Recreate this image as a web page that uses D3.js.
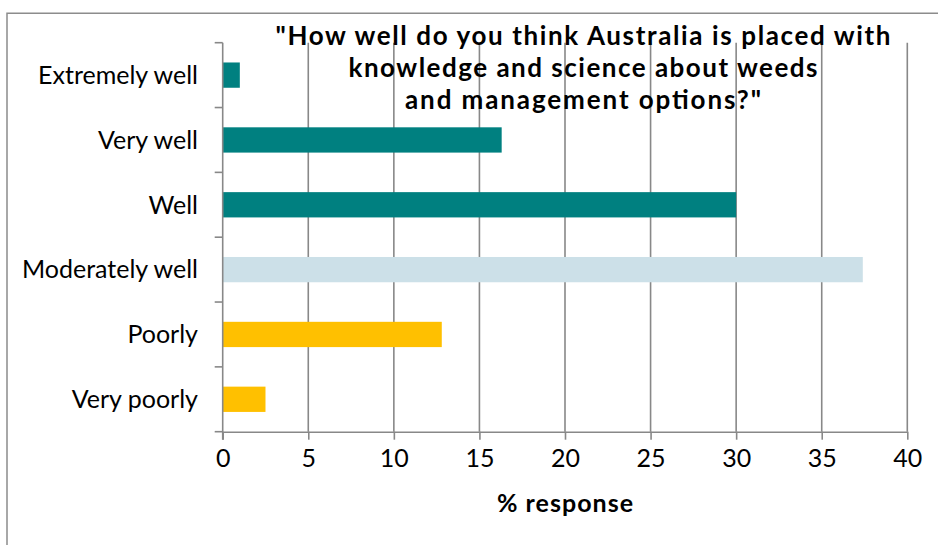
<!DOCTYPE html>
<html>
<head>
<meta charset="utf-8">
<script src="https://cdn.jsdelivr.net/npm/d3@7"></script>
<style>
  html, body { margin: 0; padding: 0; background: #fff; }
  svg { display: block; }
  text { font-family: "Lato", "Open Sans", sans-serif; fill: #000; }
</style>
</head>
<body>
<svg id="chart" width="938" height="545"></svg>
<script>
// Survey answers, top to bottom
const categories = ["Extremely well", "Very well", "Well", "Moderately well", "Poorly", "Very poorly"];
const responses = [1.0, 16.3, 30.0, 37.4, 12.8, 2.5];
const barColors = ["#008080", "#008080", "#008080", "#CCE0E8", "#FFC000", "#FFC000"];
const xTicks = [0, 5, 10, 15, 20, 25, 30, 35, 40];
const titleLines = ["\"How well do you think Australia is placed with",
                    "knowledge and science about weeds",
                    "and management options?\""];
const titleWidths = [615, 469, 356];
const xAxisTitle = "% response";

const svg = d3.select("#chart");
const plot = { left: 222.7, right: 907.3, top: 42.7, bottom: 431.7 };
const gridColor = "#888888";

const x = d3.scaleLinear().domain([0, 40]).range([plot.left, plot.right]);
const y = d3.scaleBand().domain(categories).range([plot.top, plot.bottom])
  .paddingInner(0.61).paddingOuter(0.305);

// chart frame (top and left edges)
svg.append("path")
  .attr("d", "M7,545 V13.3 H938")
  .attr("fill", "none").attr("stroke", "#8c8c8c").attr("stroke-width", 1.5);

// vertical gridlines
svg.append("g").selectAll("line").data(xTicks.slice(1)).join("line")
  .attr("x1", d => x(d)).attr("x2", d => x(d))
  .attr("y1", plot.top).attr("y2", plot.bottom)
  .attr("stroke", gridColor).attr("stroke-width", 1.6);

// bars
svg.append("g").selectAll("rect").data(categories).join("rect")
  .attr("x", x(0))
  .attr("y", d => y(d))
  .attr("width", (d, i) => x(responses[i]) - x(0))
  .attr("height", y.bandwidth())
  .attr("fill", (d, i) => barColors[i]);

// x axis
const xAxis = svg.append("g")
  .attr("transform", `translate(0,${plot.bottom})`)
  .call(d3.axisBottom(x).tickValues(xTicks).tickSize(8).tickPadding(10).tickSizeOuter(0));
xAxis.select(".domain").attr("stroke", gridColor).attr("stroke-width", 1.6);
xAxis.selectAll(".tick line").attr("stroke", gridColor).attr("stroke-width", 1.6);
xAxis.selectAll(".tick text")
  .style("font-family", "Lato, sans-serif").style("font-size", "25px").attr("fill", "#000");

// y axis: boundary ticks between categories
const boundaries = d3.range(categories.length + 1).map(i => plot.top + i * y.step());
const yAxis = svg.append("g");
yAxis.append("line")
  .attr("x1", x(0)).attr("x2", x(0)).attr("y1", plot.top).attr("y2", plot.bottom + 8)
  .attr("stroke", gridColor).attr("stroke-width", 1.6);
yAxis.selectAll(".bt").data(boundaries).join("line").attr("class", "bt")
  .attr("x1", x(0) - 8).attr("x2", x(0)).attr("y1", d => d).attr("y2", d => d)
  .attr("stroke", gridColor).attr("stroke-width", 1.6);

// category labels
svg.append("g").selectAll("text").data(categories).join("text")
  .attr("x", 198)
  .attr("y", d => y(d) + y.bandwidth() / 2)
  .attr("dy", "0.35em")
  .attr("text-anchor", "end")
  .style("font-size", "25px")
  .text(d => d);

// x axis title
svg.append("text")
  .attr("x", (plot.left + plot.right) / 2).attr("y", 512)
  .attr("text-anchor", "middle")
  .attr("textLength", 136).attr("lengthAdjust", "spacing")
  .style("font-size", "25px").style("font-weight", "bold")
  .text(xAxisTitle);

// chart title
svg.append("g").selectAll("text").data(titleLines).join("text")
  .attr("x", 583)
  .attr("y", (d, i) => 44.5 + i * 32)
  .attr("text-anchor", "middle")
  .attr("textLength", (d, i) => titleWidths[i]).attr("lengthAdjust", "spacing")
  .style("font-size", "26px").style("font-weight", "bold")
  .text(d => d);
</script>
</body>
</html>
